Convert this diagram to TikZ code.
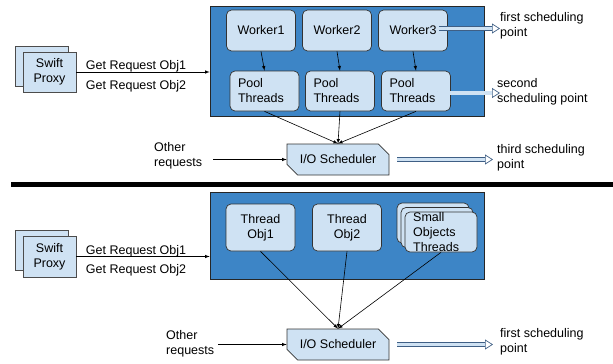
\documentclass[tikz,border=0pt]{standalone}
\usepackage{fontspec}
\setmainfont{Liberation Sans}
\usetikzlibrary{shapes.misc,arrows.meta}

\definecolor{panelblue}{HTML}{3D85C6}
\definecolor{boxfill}{HTML}{CFE2F3}
\definecolor{fatline}{HTML}{3F5F85}

\begin{document}
\begin{tikzpicture}[x=1pt,y=-1pt,>=latex,
  font=\fontsize{12.5}{15}\selectfont,
  panel/.style={draw=black!85, line width=0.7, fill=panelblue, minimum width=274, minimum height=#1},
  rbox/.style={draw=black!80, line width=0.7, fill=boxfill, rounded corners=5, minimum width=69, minimum height=#1, align=center},
  poolbox/.style={rbox=40, align=left, text width=53, inner xsep=8},
  proxybox/.style={draw=black!70, line width=0.7, fill=boxfill, minimum width=53, minimum height=40, align=center},
  iobox/.style={chamfered rectangle, chamfered rectangle corners={north east,south west},
    chamfered rectangle xsep=6, chamfered rectangle ysep=6,
    draw=black!80, line width=0.7, fill=boxfill, minimum width=102, minimum height=31, inner sep=0},
  lbl/.style={anchor=west, align=left, inner sep=0},
  arr/.style={->, line width=0.6},
  fat/.style={draw=fatline, line width=0.7, double=boxfill, double distance=3.5,
    -{Triangle[open, length=8, width=10]}}]

\useasboundingbox (0,0) rectangle (613,364);

% upper half
\node[panel=110] (top) at (347,61) {};

\node[rbox=41] (w1) at (261,30.5) {Worker1};
\node[rbox=41] (w2) at (337,30.5) {Worker2};
\node[rbox=41] (w3) at (413,30.5) {Worker3};

\node[poolbox] (p1) at (264.5,91) {Pool\\Threads};
\node[poolbox] (p2) at (340,91) {Pool\\Threads};
\node[poolbox] (p3) at (416,91) {Pool\\Threads};

\node[proxybox] (sp0) at (42,66) {};
\node[proxybox] (sp1) at (49.5,72) {Swift\\Proxy};

\node (g1) at (136,66) {Get Request Obj1};
\node (g2) at (136,86) {Get Request Obj2};

\node[iobox] (io) at (338,159.5) {I/O Scheduler};
\node[lbl] (oth) at (154,155.5) {Other\\requests};
\coordinate (o1) at (213,159.5);

\node[lbl] (s1) at (500,25.5) {first scheduling\\point};
\node[lbl] (s2) at (497,92) {second\\scheduling point};
\node[lbl] (s3) at (497,158) {third scheduling\\point};

\draw[arr] (sp1.east) -- (sp1.east -| top.west);
\draw[arr] (w1.south) -- (p1.north);
\draw[arr] (w2.south) -- (p2.north);
\draw[arr] (w3.south) -- (p3.north);
\draw[arr] (p1.south) -- (io.north);
\draw[arr] (p2.south) -- (io.north);
\draw[arr] (p3.south) -- (io.north);
\draw[arr] (o1) -- (io.west);

\draw[fat] ([xshift=-9pt,yshift=2pt]w3.east) -- ([yshift=2pt]w3.east -| s1.west);
\draw[fat] ([xshift=-13pt,yshift=-2pt]p3.east) -- ([yshift=-2pt]p3.east -| s1.west);
\draw[fat] ([xshift=8pt]io.east) -- ([xshift=-4pt]io.east -| s3.west);

% separator
\draw[line width=5] (11,184) -- (613,184);

% lower half
\node[panel=87] (bot) at (347,235.5) {};

\node[rbox=47] (t1) at (260.5,227.5) {Thread\\Obj1};
\node[rbox=47] (t2) at (347,227.5) {Thread\\Obj2};

\node[rbox=40, minimum width=72] (sb2) at (433,223) {};
\node[rbox=40, minimum width=72] (sb1) at (437,227.5) {};
\node[rbox=40, minimum width=72] (sb) at (441,232) {};
\node[lbl] (sbt) at (413,232) {Small\\Objects\\Threads};

\node[proxybox] (bp0) at (42,250) {};
\node[proxybox, minimum height=41] (bp1) at (49.5,256.5) {Swift\\Proxy};

\node (h1) at (136,251) {Get Request Obj1};
\node (h2) at (136,270) {Get Request Obj2};

\node[iobox] (bio) at (338,344.5) {I/O Scheduler};
\node[lbl] (both) at (166,344) {Other\\requests};
\coordinate (o2) at (218,344.5);

\node[lbl] (bs1) at (500,342) {first scheduling\\point};

\draw[arr] (bp1.east) -- (bp1.east -| bot.west);
\draw[arr] (t1.south) -- (bio.north);
\draw[arr] (t2.south) -- (bio.north);
\draw[arr] (sb.south) -- (bio.north);
\draw[arr] (o2) -- (bio.west);

\draw[fat] ([xshift=8pt]bio.east) -- ([xshift=-7pt]bio.east -| bs1.west);

\end{tikzpicture}
\end{document}
